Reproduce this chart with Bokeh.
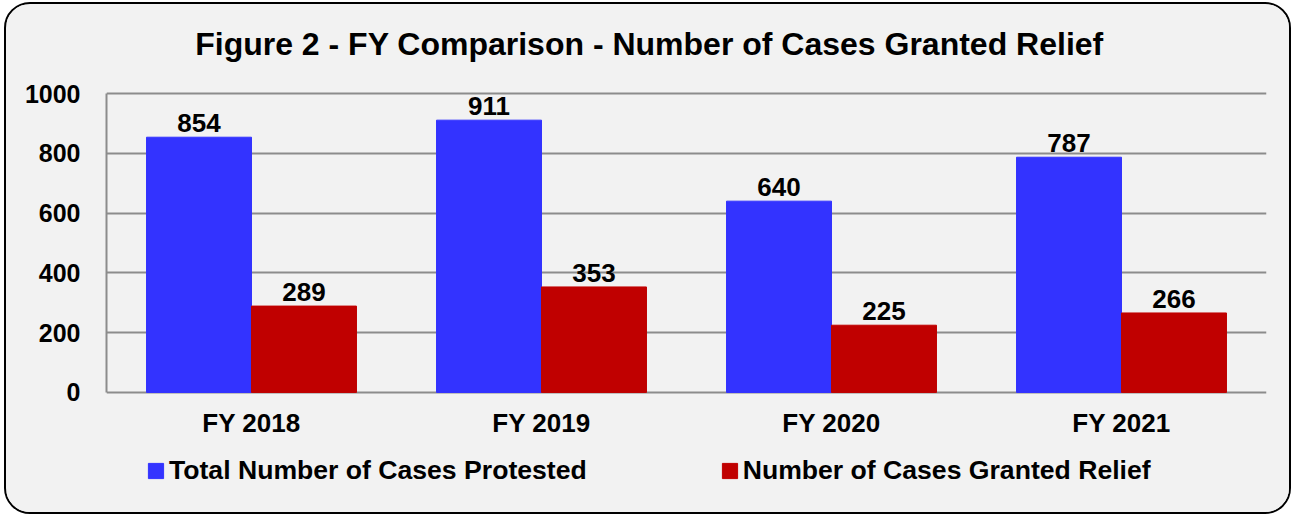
from bokeh.plotting import figure
from bokeh.models import (ColumnDataSource, FactorRange, Range1d, Legend, LegendItem,
                          LabelSet, Label, FixedTicker)
from bokeh.transform import dodge
from bokeh.core.properties import value
from bokeh.embed import file_html
from bokeh.resources import INLINE

categories = ["FY 2018", "FY 2019", "FY 2020", "FY 2021"]
protested = [854, 911, 640, 787]
granted = [289, 353, 225, 266]
series_names = ["Total Number of Cases Protested", "Number of Cases Granted Relief"]
y_ticks = [0, 200, 400, 600, 800, 1000]
title_text = "Figure 2 - FY Comparison - Number of Cases Granted Relief"

FONT = "Liberation Sans"
BG = "#F2F2F2"
GRID = "#8C8C8C"

src = ColumnDataSource(dict(cat=categories, protested=protested, granted=granted,
                            lp=[str(v) for v in protested], lg=[str(v) for v in granted]))

# frame spans the whole canvas height; value axis 0..1000 occupies ~299 px of it
p = figure(x_range=FactorRange(*categories), y_range=Range1d(-415, 1298),
           width=1287, height=512, output_backend="svg", toolbar_location=None,
           min_border_left=100, min_border_right=27, min_border_top=0, min_border_bottom=0,
           background_fill_color=BG, border_fill_color=BG,
           styles={"border": "2px solid black", "border-radius": "26px",
                   "overflow": "hidden", "background-color": BG,
                   "margin-left": "4px", "margin-top": "2px"})
p.outline_line_color = None

p.add_layout(Label(x=543, y=473, x_units="screen", y_units="screen", text=title_text,
                   text_align="center", text_baseline="alphabetic",
                   text_font=FONT, text_font_size="32px", text_font_style="bold",
                   text_color="black"))

r1 = p.vbar(x=dodge("cat", -0.181, range=p.x_range), top="protested", width=0.362, source=src,
            fill_color="#3333FF", line_color="#3333FF")
r2 = p.vbar(x=dodge("cat", 0.181, range=p.x_range), top="granted", width=0.362, source=src,
            fill_color="#C00000", line_color="#C00000")

for col, lab, off in [("protested", "lp", -0.181), ("granted", "lg", 0.181)]:
    p.add_layout(LabelSet(x=dodge("cat", off, range=p.x_range), y=col, text=lab, source=src,
                          text_align="center", text_baseline="alphabetic", y_offset=5,
                          text_font=value(FONT), text_font_size=value("26px"),
                          text_font_style=value("bold"), text_color="black"))

# category labels under the zero line
p.add_layout(LabelSet(x="cat", y=0, text="cat", source=src, y_offset=-40,
                      text_align="center", text_baseline="alphabetic",
                      text_font=value(FONT), text_font_size=value("26px"),
                      text_font_style=value("bold"), text_color="black"))
p.xaxis.visible = False

p.yaxis.ticker = FixedTicker(ticks=y_ticks)
p.yaxis.bounds = (0, 1000)
p.yaxis.major_tick_line_color = None
p.yaxis.minor_tick_line_color = None
p.yaxis.axis_line_color = GRID
p.yaxis.axis_line_width = 2
p.yaxis.major_label_standoff = 20
p.yaxis.major_label_text_font = FONT
p.yaxis.major_label_text_font_size = "25px"
p.yaxis.major_label_text_font_style = "bold"
p.yaxis.major_label_text_color = "black"

p.xgrid.grid_line_color = None
p.ygrid.grid_line_color = GRID
p.ygrid.grid_line_width = 2

legend = Legend(items=[LegendItem(label=series_names[0], renderers=[r1]),
                       LegendItem(label=series_names[1], renderers=[r2])],
                orientation="horizontal", location=(40, 30),
                glyph_width=19, glyph_height=19, label_height=19, label_standoff=4, spacing=133,
                padding=0, margin=0, border_line_color=None, background_fill_alpha=0,
                label_text_font=FONT, label_text_font_size="26.6px", label_text_font_style="bold",
                label_text_color="black")
p.add_layout(legend)

open("out.html", "w").write(file_html(p, INLINE))
